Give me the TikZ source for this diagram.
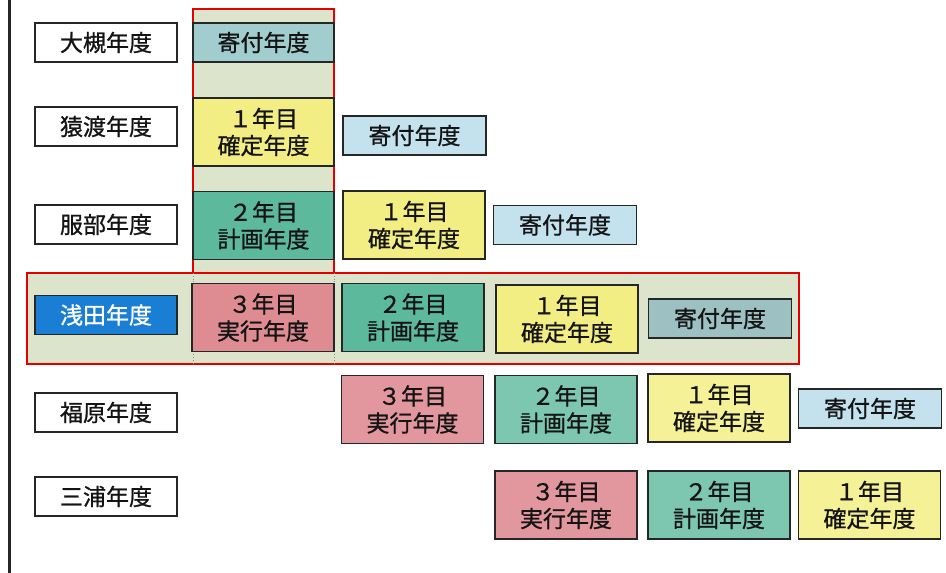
\documentclass[tikz,border=0pt]{standalone}
\usepackage{fontspec}
\setmainfont{Noto Sans CJK JP}[FakeBold=0.9]
\begin{document}
\begin{tikzpicture}[x=1pt,y=-1pt,
  base/.style={draw=black!85, line width=1.6pt, inner sep=0pt, align=center,
    font=\fontsize{23}{27}\selectfont, text=black!92},
  lbl/.style={base, fill=white, minimum width=142pt, minimum height=39pt},
  tall/.style={base, minimum width=142pt, minimum height=68pt},
  short/.style={base, minimum width=143pt, minimum height=39pt},
  kin/.style={short, fill=kifuIn},
  kout/.style={short, fill=kifuOut},
  y1/.style={tall, fill=yel},
  y2/.style={tall, fill=grn},
  y3/.style={tall, fill=red3},
  framefill/.style={fill=bgG},
  frameline/.style={draw=red!90!black, line width=1.3pt}
]
\definecolor{bgG}{HTML}{DCE5CB}
\definecolor{kifuIn}{HTML}{A2CDCF}
\definecolor{kifuOut}{HTML}{C3E2EE}
\definecolor{yel}{HTML}{F3EE84}
\definecolor{grn}{HTML}{5DB99C}
\definecolor{red3}{HTML}{DE8C92}
\definecolor{blu}{HTML}{1A7FD4}
\useasboundingbox (0,0) rectangle (946,573);
\fill[white] (0,0) rectangle (946,573);
% left rule
\draw[line width=3pt, black!85] (9,0) -- (9,573);
% highlight frames
\fill[framefill] (193,9) rectangle (334,273);
\fill[framefill] (27,273) rectangle (799,364);
\draw[frameline] (193,273) -- (193,9) -- (334,9) -- (334,273);
\draw[frameline] (27,273) rectangle (799,364);
\draw[black!45, dotted, line width=0.8pt] (193,273) -- (193,364) (334,273) -- (334,364);
% year labels
\node[lbl] (l1) at (106,42.5) {大槻年度};
\node[lbl] (l2) at (106,126.5) {猿渡年度};
\node[lbl] (l3) at (106,224.5) {服部年度};
\node[lbl, fill=blu, text=white] (l4) at (106,315) {浅田年度};
\node[lbl] (l5) at (106,412.5) {福原年度};
\node[lbl] (l6) at (106,496.5) {三浦年度};
% column
\node[kin, minimum width=141pt] (c0) at (263.5,42.5) {寄付年度};
\node[y1, minimum width=141pt] (c1) at (263.5,132) {１年目\\確定年度};
\node[y2, minimum width=141pt] (c2) at (263.5,225.5) {２年目\\計画年度};
% 猿渡 row
\node[kout] (s0) at (414.5,135.5) {寄付年度};
% 服部 row
\node[y1] (h1) at (414,225) {１年目\\確定年度};
\node[kout] (h0) at (565,225) {寄付年度};
% 浅田 row
\node[y3] (a3) at (263,317.5) {３年目\\実行年度};
\node[y2] (a2) at (413,317.5) {２年目\\計画年度};
\node[y1] (a1) at (567,319) {１年目\\確定年度};
\node[kin, fill=kifuIn!85!gray] (a0) at (720,318.5) {寄付年度};
% 福原 row
\node[y3, fill=red3!90!white] (f3) at (412.5,409.5) {３年目\\実行年度};
\node[y2, fill=grn!80!white] (f2) at (566,409.5) {２年目\\計画年度};
\node[y1, fill=yel!85!white] (f1) at (719,408) {１年目\\確定年度};
\node[kout] (f0) at (870,408.5) {寄付年度};
% 三浦 row
\node[y3, fill=red3!90!white] (m3) at (566,505) {３年目\\実行年度};
\node[y2, fill=grn!80!white] (m2) at (719,505) {２年目\\計画年度};
\node[y1, fill=yel!85!white] (m1) at (869.5,505) {１年目\\確定年度};
\end{tikzpicture}
\end{document}
